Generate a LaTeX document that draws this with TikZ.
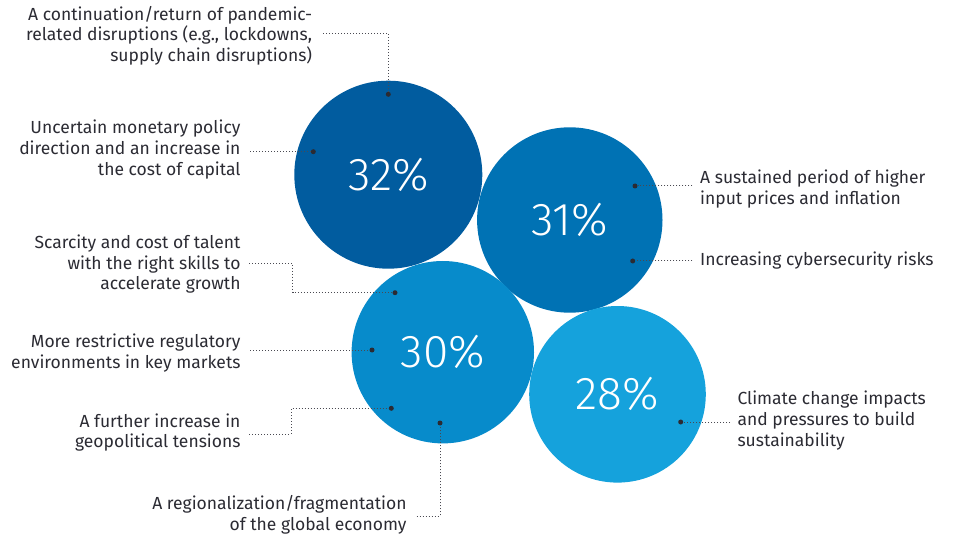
\documentclass[tikz,border=0pt]{standalone}
\usepackage{fontspec}
\newfontfamily\lblfont{Fira Sans}
\newfontfamily\pctfont{Fira Sans Light}
\definecolor{cA}{HTML}{015C9F}
\definecolor{cB}{HTML}{0072B4}
\definecolor{cC}{HTML}{078BCB}
\definecolor{cD}{HTML}{15A2DC}
\definecolor{ink}{HTML}{2B2B33}
\definecolor{lineg}{HTML}{4A4A52}
\tikzset{
  bubble/.style={circle, inner sep=0pt, text=white, font=\pctfont\fontsize{46}{46}\selectfont},
  dotmark/.style={circle, fill=ink, inner sep=0pt, minimum size=5pt},
  lblL/.style={anchor=east, align=right, inner sep=0pt, text=ink, font=\lblfont\fontsize{17.5}{20.8}\selectfont},
  lblR/.style={anchor=west, align=left, inner sep=0pt, text=ink, font=\lblfont\fontsize{17.5}{20.8}\selectfont},
  conn/.style={draw=lineg, line width=1pt, dash pattern=on 1pt off 2pt}
}
\begin{document}
\begin{tikzpicture}[x=1pt,y=-1pt]
\useasboundingbox (0,0) rectangle (955,537);
% bubbles
\node[bubble, fill=cA, minimum size=188pt] (b32) at (388.3,174.7) {32\%};
\node[bubble, fill=cB, minimum size=185.4pt] (b31) at (569.8,220) {31\%};
\node[bubble, fill=cC, minimum size=182.4pt] (b30) at (442.8,352.2) {30\%};
\node[bubble, fill=cD, minimum size=176.6pt] (b28) at (617.5,394.3) {28\%};
% dots
\node[dotmark] (d1) at (388.3,94.3) {};
\node[dotmark] (d2) at (313.3,151.7) {};
\node[dotmark] (d3) at (395,292.7) {};
\node[dotmark] (d4) at (372,350) {};
\node[dotmark] (d5) at (391.3,408.3) {};
\node[dotmark] (d6) at (440,423) {};
\node[dotmark] (d7) at (635,186) {};
\node[dotmark] (d8) at (632.7,261) {};
\node[dotmark] (d9) at (680.7,422) {};
% labels
\node[lblL] (l1) at (312.3,35.8) {A continuation/return of pandemic-\\related disruptions (e.g., lockdowns,\\supply chain disruptions)};
\node[lblL] (l2) at (240.7,149.7) {Uncertain monetary policy\\direction and an increase in\\the cost of capital};
\node[lblL] (l3) at (240.7,264.2) {Scarcity and cost of talent\\with the right skills to\\accelerate growth};
\node[lblL] (l4) at (240.7,352.7) {More restrictive regulatory\\environments in key markets};
\node[lblL] (l5) at (240.7,432.5) {A further increase in\\geopolitical tensions};
\node[lblL] (l6) at (406.7,515) {A regionalization/fragmentation\\of the global economy};
\node[lblR] (l7) at (700,188.7) {A sustained period of higher\\input prices and inflation};
\node[lblR] (l8) at (700,261) {Increasing cybersecurity risks};
\node[lblR] (l9) at (737.3,420.5) {Climate change impacts\\and pressures to build\\sustainability};
% connector ends and corners
\coordinate (e1) at (323.3,33.3);
\coordinate (e2) at (250,151.7);
\coordinate (e3) at (249.3,263.3);
\coordinate (k3) at (292.7,263.3);
\coordinate (e4) at (250,350);
\coordinate (e5) at (249.3,434);
\coordinate (k5) at (291,434);
\coordinate (e6) at (416.7,516);
\coordinate (e7) at (692.3,186);
\coordinate (e8) at (692.3,261);
\coordinate (e9) at (730,422);
% connectors
\draw[conn] (e1) -| (d1);
\draw[conn] (e2) -- (d2);
\draw[conn] (e3) -- (k3) |- (d3);
\draw[conn] (e4) -- (d4);
\draw[conn] (e5) -- (k5) |- (d5);
\draw[conn] (e6) -| (d6);
\draw[conn] (e7) -- (d7);
\draw[conn] (e8) -- (d8);
\draw[conn] (e9) -- (d9);
\end{tikzpicture}
\end{document}
